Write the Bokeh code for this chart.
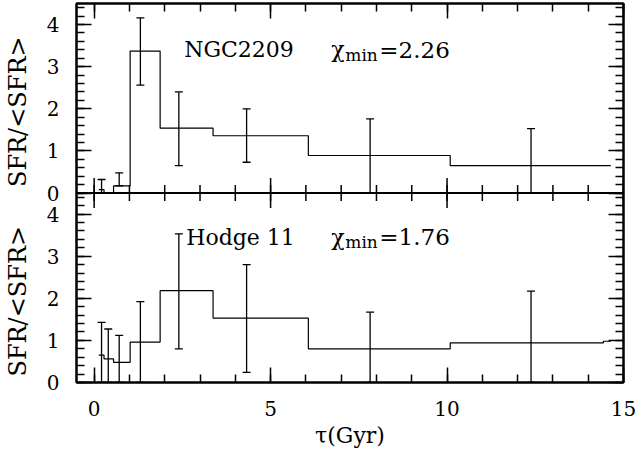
import math
from bokeh.plotting import figure
from bokeh.layouts import row
from bokeh.models import (Range1d, LinearAxis, SingleIntervalTicker, FixedTicker,
                          Label, Span, CustomJSTickFormatter)
from bokeh.core.properties import value
from bokeh.embed import file_html
from bokeh.resources import INLINE

# ---------------- data ----------------
# NGC2209 (upper panel)
ngc_edges = [0.13, 0.28, 0.55, 1.02, 1.87, 3.37, 6.07, 10.09, 14.64]
ngc_sfr = [0.08, 0.0, 0.17, 3.37, 1.54, 1.36, 0.89, 0.65]
ngc_err_t = [0.21, 0.71, 1.31, 2.40, 4.32, 7.82, 12.38]
ngc_err_hi = [0.32, 0.48, 4.16, 2.40, 2.00, 1.76, 1.53]
ngc_err_lo = [0.0, 0.17, 2.56, 0.65, 0.73, 0.0, 0.0]
ngc_chi = "2.26"

# Hodge 11 (lower panel)
h11_edges = [0.13, 0.28, 0.55, 1.02, 1.87, 3.37, 6.07, 10.09, 14.43, 14.64]
h11_sfr = [0.65, 0.56, 0.48, 0.96, 2.18, 1.53, 0.80, 0.94, 0.98]
h11_err_t = [0.21, 0.40, 0.71, 1.31, 2.40, 4.32, 7.82, 12.38]
h11_err_hi = [1.43, 1.27, 1.12, 1.92, 3.53, 2.80, 1.67, 2.17]
h11_err_lo = [0.0, 0.0, 0.0, 0.0, 0.80, 0.24, 0.0, 0.0]
h11_chi = "1.76"

x_major = [0, 5, 10, 15]
x_minor = list(range(0, 16))
y_major = [0, 1, 2, 3, 4]
y_title = "SFR/<SFR>"
x_title = "τ(Gyr)"

FONT = "DejaVu Serif"
PANEL = 4.5  # height of each panel in SFR units
W, H = 639, 455
SIDE = 40

# ---------- narrow strip holding the two rotated y titles ----------
# (its frame is aligned with the main frame by the row layout)
side = figure(width=SIDE, height=H, output_backend="svg", toolbar_location=None,
              x_range=Range1d(0, SIDE), y_range=Range1d(0, 2 * PANEL),
              x_axis_location=None, y_axis_location=None,
              min_border_left=0, min_border_right=0, min_border_top=3, min_border_bottom=73)
side.xgrid.visible = False
side.ygrid.visible = False
side.outline_line_color = None
side.border_fill_color = "white"
side.text(x=[17.5, 17.5], y=[PANEL + 1.93, 1.93], text=[y_title, y_title],
          angle=math.pi / 2, text_align="center", text_baseline="middle",
          text_font=value(FONT), text_font_size="24px", text_color="black")

# ---------- main plot (both panels share one frame) ----------
p = figure(width=W - SIDE, height=H, output_backend="svg", toolbar_location=None,
           x_range=Range1d(-0.5, 15), y_range=Range1d(0, 2 * PANEL),
           x_axis_location=None, y_axis_location=None,
           min_border_left=76 - SIDE, min_border_right=16, min_border_top=3,
           min_border_bottom=73)
p.extra_y_ranges = {"top": Range1d(-PANEL, PANEL)}
p.xgrid.visible = False
p.ygrid.visible = False
p.outline_line_color = "black"
p.outline_line_width = 2
p.background_fill_color = "white"
p.border_fill_color = "white"

ymaj = y_major + [v + PANEL for v in y_major]
ymin = [round(i * 0.2, 2) for i in range(0, 23)]
ymin = ymin + [round(v + PANEL, 2) for v in ymin]
yticker = FixedTicker(ticks=ymaj, minor_ticks=ymin)
yfmt = CustomJSTickFormatter(code="var v = tick >= 4.45 ? tick - 4.5 : tick; return Math.round(v).toString();")


def style_axis(ax, labels):
    ax.axis_line_width = 2
    ax.axis_line_color = "black"
    ax.major_tick_in = 15
    ax.major_tick_out = 0
    ax.minor_tick_in = 8
    ax.minor_tick_out = 0
    ax.major_tick_line_width = 1.5
    ax.minor_tick_line_width = 1.5
    if labels:
        ax.major_label_text_font = FONT
        ax.major_label_text_font_size = "20px"
        ax.major_label_text_color = "black"
    else:
        ax.major_label_text_font_size = "1px"
        ax.major_label_text_color = None
        ax.major_label_standoff = 0


left = LinearAxis(ticker=yticker, formatter=yfmt)
style_axis(left, True)
left.major_label_standoff = 17
p.add_layout(left, "left")

right = LinearAxis(ticker=yticker, formatter=yfmt)
style_axis(right, False)
p.add_layout(right, "right")

xt = SingleIntervalTicker(interval=5, num_minor_ticks=5)
bottom = LinearAxis(ticker=xt, axis_label=x_title)
style_axis(bottom, True)
bottom.major_label_standoff = 18
bottom.axis_label_text_font = FONT
bottom.axis_label_text_font_size = "22px"
bottom.axis_label_text_font_style = "normal"
bottom.axis_label_text_color = "black"
bottom.axis_label_standoff = 4
p.add_layout(bottom, "below")

top = LinearAxis(ticker=SingleIntervalTicker(interval=5, num_minor_ticks=5))
style_axis(top, False)
p.add_layout(top, "above")

# middle divider with ticks pointing both ways
p.add_layout(Span(location=PANEL, dimension="width", line_color="black", line_width=2))
p.scatter(x_major, [PANEL] * len(x_major), marker="dash", angle=math.pi / 2,
          size=30, line_color="black", line_width=1.5)
p.scatter(x_minor, [PANEL] * len(x_minor), marker="dash", angle=math.pi / 2,
          size=16, line_color="black", line_width=1.5)


def panel(edges, sfr, et, ehi, elo, name, chi, rng, name_x, name_y):
    kw = {} if rng is None else {"y_range_name": rng}
    p.step(edges, sfr + [sfr[-1]], mode="after", line_color="black", line_width=1.2, **kw)
    p.segment(x0=et, y0=elo, x1=et, y1=ehi, line_color="black", line_width=1.3, **kw)
    p.scatter(et, ehi, marker="dash", size=8, line_color="black", line_width=1.3, **kw)
    p.scatter(et, elo, marker="dash", size=8, line_color="black", line_width=1.3, **kw)
    p.add_layout(Label(x=name_x, y=name_y, text=name, text_font=FONT, text_color="black",
                       text_font_size="22px", text_baseline="alphabetic", **kw))
    p.add_layout(Label(x=6.72, y=name_y, text="χ", text_font=FONT, text_color="black",
                       text_font_size="22px", text_baseline="alphabetic", **kw))
    p.add_layout(Label(x=6.72, y=name_y, x_offset=14, y_offset=-5, text="min", text_font=FONT,
                       text_color="black", text_font_size="17px", text_baseline="alphabetic", **kw))
    p.add_layout(Label(x=6.72, y=name_y, x_offset=48, text="=" + chi, text_font=FONT,
                       text_color="black", text_font_size="23px", text_baseline="alphabetic", **kw))


panel(ngc_edges, ngc_sfr, ngc_err_t, ngc_err_hi, ngc_err_lo, "NGC2209", ngc_chi,
      "top", 2.55, 3.40)
panel(h11_edges, h11_sfr, h11_err_t, h11_err_hi, h11_err_lo, "Hodge 11", h11_chi,
      None, 2.61, 3.45)

layout = row(side, p, spacing=0)
open("out.html", "w").write(file_html(layout, INLINE))
